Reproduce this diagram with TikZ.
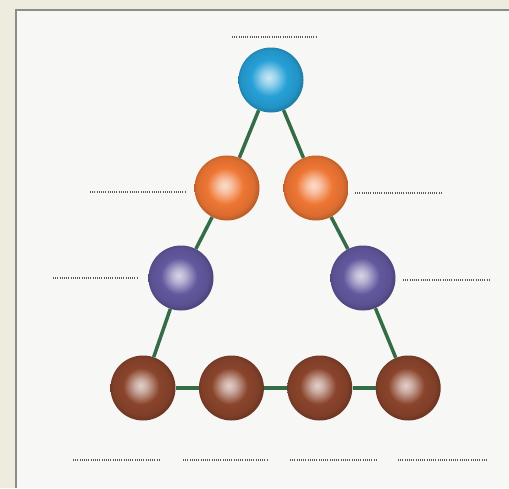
\documentclass[tikz,border=0pt]{standalone}
\usetikzlibrary{positioning}

\definecolor{paper}{RGB}{247,247,245}
\definecolor{cream}{RGB}{238,236,222}
\definecolor{framegray}{RGB}{140,140,140}
\definecolor{stick}{RGB}{52,108,72}
\definecolor{sphblue}{RGB}{38,160,214}
\definecolor{sphorange}{RGB}{238,118,52}
\definecolor{sphpurple}{RGB}{98,88,158}
\definecolor{sphbrown}{RGB}{138,68,44}
\definecolor{blankgray}{RGB}{90,90,90}

\colorlet{sphcol}{sphblue}
\pgfdeclareradialshading[sphcol]{sphere}{\pgfpoint{-2bp}{2bp}}{%
  color(0bp)=(sphcol!25!white); color(5bp)=(sphcol!45!white);
  color(14bp)=(sphcol); color(22bp)=(sphcol!92!black);
  color(25bp)=(sphcol!80!black); color(50bp)=(sphcol!80!black)}

\tikzset{
  atom/.style={circle, inner sep=0pt, minimum size=65pt,
    /utils/exec={\colorlet{sphcol}{#1}}, shading=sphere},
  stickline/.style={stick, line width=3.5pt},
  blank/.style={blankgray, line width=1.4pt, dash pattern=on 1pt off 1.2pt},
}

\begin{document}
\begin{tikzpicture}[x=1pt, y=-1pt]
    \useasboundingbox (0,0) rectangle (509,488);
    \fill[cream] (0,0) rectangle (509,488);
    \fill[paper] (16,10) rectangle (509,488);
    \draw[framegray, line width=1.6pt] (16,488) -- (16,10) -- (509,10);

    \node[atom=sphblue] (top) at (271,80) {};
    \node[atom=sphorange] (orangeleft) at (227,188) {};
    \node[atom=sphorange] (orangeright) at (316,188) {};
    \node[atom=sphpurple] (purpleleft) at (181,278) {};
    \node[atom=sphpurple] (purpleright) at (363,278) {};
    \node[atom=sphbrown] (base1) at (143,388) {};
    \node[atom=sphbrown, right=23pt of base1] (base2) {};
    \node[atom=sphbrown, right=23pt of base2] (base3) {};
    \node[atom=sphbrown, right=23pt of base3] (base4) {};

    \draw[stickline] (top) -- (orangeleft);
    \draw[stickline] (top) -- (orangeright);
    \draw[stickline] (orangeleft) -- (purpleleft);
    \draw[stickline] (orangeright) -- (purpleright);
    \draw[stickline] (purpleleft) -- (base1);
    \draw[stickline] (purpleright) -- (base4);
    \draw[stickline] (base1) -- (base2);
    \draw[stickline] (base2) -- (base3);
    \draw[stickline] (base3) -- (base4);

    % answer blanks
    \draw[blank] (232,37) -- (317,37);
    \draw[blank] (90,192) -- (185,192);
    \draw[blank] (355,193) -- (443,193);
    \draw[blank] (53,278) -- (138,278);
    \draw[blank] (403,280) -- (490,280);
    \draw[blank] (73,460) -- (160,460);
    \draw[blank] (183,460) -- (268,460);
    \draw[blank] (290,460) -- (378,460);
    \draw[blank] (398,460) -- (487,460);
\end{tikzpicture}
\end{document}
